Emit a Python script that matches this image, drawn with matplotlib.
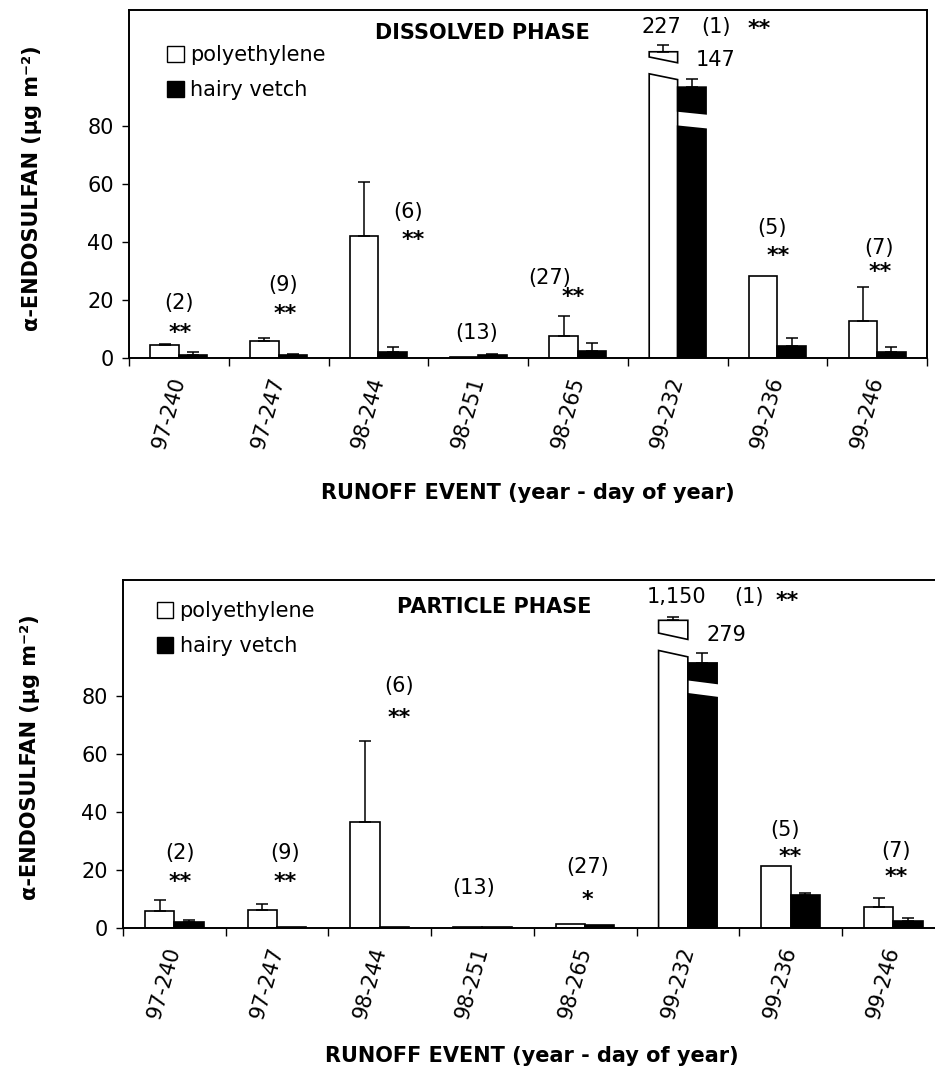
import numpy as np
import matplotlib
matplotlib.use('Agg')
import matplotlib.pyplot as plt
from matplotlib.patches import Polygon, Patch

# ── Data ──────────────────────────────────────────────────────────────────────
events = ["97-240", "97-247", "98-244", "98-251", "98-265", "99-232", "99-236", "99-246"]

# dissolved phase (ug m-2); 99-232 is off scale (drawn as broken bar)
dis_poly      = [4.5, 6.0, 42.0, 0.3, 7.7, 227, 28.2, 12.8]
dis_poly_err  = [0.5, 0.8, 18.8, 0.0, 6.8, 2.4, 0.0, 11.7]
dis_vetch     = [1.2, 1.0, 2.2, 1.0, 2.4, 147, 4.2, 2.2]
dis_vetch_err = [0.9, 0.5, 1.6, 0.3, 2.7, 2.7, 2.8, 1.7]

# particle phase
par_poly      = [6.0, 6.2, 36.5, 0.2, 1.5, 1150, 21.5, 7.1]
par_poly_err  = [3.7, 2.0, 27.9, 0.0, 0.0, 1.1, 0.0, 3.4]
par_vetch     = [2.0, 0.3, 0.5, 0.4, 0.9, 279, 11.3, 2.3]
par_vetch_err = [0.8, 0.0, 0.0, 0.0, 0.0, 3.5, 0.6, 1.1]

# broken-bar geometry for 99-232: (lower top, stub bottom, stub top, tilt) per series
dis_break = [(97.0, 102.8, 105.6, 2.0), (79.4, 84.7, 93.4, 1.0)]
par_break = [(94.6, 100.6, 106.1, 2.2), (80.1, 85.0, 91.4, 1.3)]

# annotations (text, x, y, bold)
dis_notes = [("(2)", 0.0, 19.1, False), ("**", 0.01, 8.7, True),
             ("(9)", 1.04, 25.3, False), ("**", 1.07, 15.3, True),
             ("(6)", 2.30, 50.3, False), ("**", 2.35, 40.6, True),
             ("(13)", 2.98, 8.7, False),
             ("(27)", 3.72, 27.5, False), ("**", 3.95, 21.0, True),
             ("227", 4.84, 114.0, False), ("(1)", 5.38, 114.0, False), ("**", 5.82, 113.5, True),
             ("147", 5.38, 102.7, False),
             ("(5)", 5.95, 44.7, False), ("**", 6.01, 35.0, True),
             ("(7)", 7.02, 38.1, False), ("**", 7.03, 29.5, True)]
par_notes = [("(2)", 0.055, 25.9, False), ("**", 0.055, 15.9, True),
             ("(9)", 1.08, 25.9, False), ("**", 1.08, 15.9, True),
             ("(6)", 2.19, 83.6, False), ("**", 2.19, 72.5, True),
             ("(13)", 2.91, 13.8, False),
             ("(27)", 4.02, 21.1, False), ("*", 4.02, 9.7, True),
             ("1,150", 4.89, 114.0, False), ("(1)", 5.60, 114.0, False), ("**", 5.97, 112.6, True),
             ("279", 5.38, 101.2, False),
             ("(5)", 5.95, 33.9, False), ("**", 6.0, 24.5, True),
             ("(7)", 7.03, 26.6, False), ("**", 7.03, 17.7, True)]

YMAX = 120
W = 0.285
FS = 15
plt.rcParams['font.family'] = ['DejaVu Sans']


def broken_bar(ax, xc, geom, color):
    lo, sb, st, tilt = geom
    x0, x1 = xc - W / 2, xc + W / 2
    low = [(x0, 0), (x1, 0), (x1, lo - tilt / 2), (x0, lo + tilt / 2)]
    stub = [(x0, sb + tilt / 2), (x1, sb - tilt / 2), (x1, st), (x0, st)]
    for pts in (low, stub):
        ax.add_patch(Polygon(pts, closed=True, facecolor=color,
                             edgecolor="black", lw=1.2, zorder=2))
    return st


def panel(ax, poly, poly_err, vetch, vetch_err, breaks, notes, title, leg_anchor, title_pos):
    x = np.arange(len(events))
    for vals, errs, off, col, geom in ((poly, poly_err, -W / 2, "white", breaks[0]),
                                        (vetch, vetch_err, W / 2, "black", breaks[1])):
        vals = np.array(vals, float)
        errs = np.array(errs, float)
        ok = vals < YMAX
        ax.bar(x[ok] + off, vals[ok], W, color=col, edgecolor="black", lw=1.2, zorder=2)
        tops = vals.copy()
        for i in np.where(~ok)[0]:
            tops[i] = broken_bar(ax, x[i] + off, geom, col)
        m = errs > 0
        ax.errorbar(x[m] + off, tops[m], yerr=[np.zeros(m.sum()), errs[m]], fmt="none",
                    ecolor="black", elinewidth=1.1, capsize=4.5, capthick=1.1, zorder=3)

    for txt, tx, ty, bold in notes:
        ax.text(tx, ty, txt, ha="center", va="center", fontsize=16 if bold else FS,
                fontweight="bold" if bold else "normal")

    ax.set_xlim(-0.5, len(events) - 0.5)
    ax.set_ylim(0, YMAX)
    ax.set_yticks([0, 20, 40, 60, 80])
    ax.tick_params(axis="y", direction="out", length=5, width=1, labelsize=FS, pad=6)
    ax.set_xticks(np.arange(len(events) + 1) - 0.5)
    ax.set_xticklabels([])
    ax.set_xticks(x, events, minor=True)
    ax.tick_params(axis="x", which="major", direction="out", length=6, width=1)
    ax.tick_params(axis="x", which="minor", length=0, pad=14, labelsize=FS)
    for lab in ax.get_xticklabels(minor=True):
        lab.set_rotation(74)
        lab.set_ha("right")
        lab.set_va("center")
        lab.set_rotation_mode("anchor")
    for s in ax.spines.values():
        s.set_linewidth(1.4)

    ax.text(*title_pos, title, transform=ax.transAxes, fontsize=FS,
            fontweight="bold", ha="left", va="center")
    handles = [Patch(facecolor="white", edgecolor="black", lw=1),
               Patch(facecolor="black", edgecolor="black", lw=1)]
    ax.legend(handles, ["polyethylene", "hairy vetch"], loc="upper left",
              bbox_to_anchor=leg_anchor, frameon=False, fontsize=FS,
              handlelength=0.8, handleheight=0.8, handletextpad=0.3,
              labelspacing=0.72, borderpad=0, borderaxespad=0)


fig = plt.figure(figsize=(9.35, 10.72), dpi=100)
ax1 = fig.add_axes([129 / 935, (1072 - 358) / 1072, 798 / 935, 348 / 1072])
ax2 = fig.add_axes([123 / 935, (1072 - 928) / 1072, 821.6 / 935, 348 / 1072])

panel(ax1, dis_poly, dis_poly_err, dis_vetch, dis_vetch_err, dis_break, dis_notes,
      "DISSOLVED PHASE", (0.048, 0.90), (0.308, 0.934))
panel(ax2, par_poly, par_poly_err, par_vetch, par_vetch_err, par_break, par_notes,
      "PARTICLE PHASE", (0.041, 0.94), (0.3335, 0.922))

ylab = "α-ENDOSULFAN (μg m⁻²)"
fig.text(32 / 935, 1 - 188 / 1072, ylab, rotation=90, ha="center", va="center",
         fontsize=FS, fontweight="bold")
fig.text(30 / 935, 1 - 757 / 1072, ylab, rotation=90, ha="center", va="center",
         fontsize=FS, fontweight="bold")
xlab = "RUNOFF EVENT (year - day of year)"
fig.text(528 / 935, 1 - 493 / 1072, xlab, ha="center", va="center",
         fontsize=FS, fontweight="bold")
fig.text(532 / 935, 1 - 1056 / 1072, xlab, ha="center", va="center",
         fontsize=FS, fontweight="bold")

fig.savefig("out.png", dpi=100)
